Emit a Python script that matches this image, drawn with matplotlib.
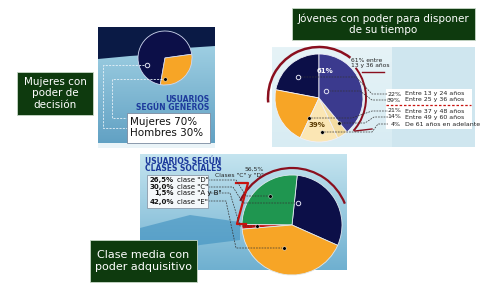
import matplotlib.pyplot as plt
import numpy as np
from matplotlib.patches import Rectangle, Polygon, Arc

# data
gen_labels = ['Mujeres', 'Hombres']
gen_values = [70, 30]

edad_labels = ['Entre 13 y 24 años', 'Entre 25 y 36 años', 'Entre 37 y 48 años',
               'Entre 49 y 60 años', 'De 61 años en adelante']
edad_values = [22, 39, 21, 14, 4]

clase_labels = ['clase "D"', 'clase "C"', 'clase "A y B"', 'clase "E"']
clase_values = [26.5, 30.0, 1.5, 42.0]

NAVY = '#0c0f48'
ORANGE = '#f7a526'
LAV = '#3b3a8e'
CREAM = '#fbe6b4'
GREEN = '#1f9650'
RED = '#c8120f'
DKRED = '#8a0f1e'
BOXGREEN = '#0e3a0e'
BLUE_TXT = '#1d3a9c'

fig = plt.figure(figsize=(5, 3), dpi=100)
ax = fig.add_axes([0, 0, 1, 1])


def gradient(x0, x1, y0, y1, c_top, c_bot):
    a = np.array(plt.matplotlib.colors.to_rgb(c_top))
    b = np.array(plt.matplotlib.colors.to_rgb(c_bot))
    t = np.linspace(0, 1, 100)[:, None]
    img = (a * (1 - t) + b * t)[:, None, :]
    im = ax.imshow(img, extent=(x0, x1, y1, y0), aspect='auto', zorder=1)
    return im


def pie(values, colors, center, r, start, clip, edge='#e8eef5'):
    # y axis is inverted, so go clockwise in data = counter-clockwise on screen
    wedges, _ = ax.pie(values, colors=colors, startangle=-start, counterclock=False,
                       center=center, radius=r, frame=True,
                       wedgeprops=dict(edgecolor=edge, linewidth=0.6))
    for w in wedges:
        w.set_zorder(3)
        w.set_clip_path(clip)
    return wedges


def green_box(x0, y0, x1, y1, txt, fs):
    ax.add_patch(Rectangle((x0, y0), x1 - x0, y1 - y0, facecolor=BOXGREEN,
                           edgecolor='#c8d8c8', lw=0.6, zorder=6))
    ax.text((x0 + x1) / 2, (y0 + y1) / 2, txt, color='white', fontsize=fs,
            ha='center', va='center', linespacing=1.15, zorder=7)


def dot(x, y, open_=False):
    if open_:
        ax.plot(x, y, 'o', ms=3.2, mfc='none', mec='#e0e0f0', mew=0.7, zorder=5)
    else:
        ax.plot(x, y, 'o', ms=2.6, mfc='black', mec='white', mew=0.3, zorder=5)


def leader(pts, color='#333333', lw=0.5):
    xs, ys = zip(*pts)
    ax.plot(xs, ys, ls=(0, (2.5, 1.5)), color=color, lw=lw, zorder=4)


# ---------- panel 1: generos ----------
r1 = Rectangle((98, 27), 117, 121, facecolor='#8fc3da', edgecolor='none', zorder=1)
ax.add_patch(r1)
im = gradient(98, 215, 27, 148, '#a9d7e8', '#5f9fc2')
im.set_clip_path(r1)
ax.add_patch(Polygon([(98, 27), (215, 27), (215, 46), (185, 48), (160, 54), (130, 56), (98, 59)],
                     closed=True, facecolor='#0a1a45', edgecolor='none', zorder=2))
ax.add_patch(Rectangle((98, 143), 117, 5, facecolor='#eaf4f8', edgecolor='none', zorder=2))
pie(gen_values, [NAVY, ORANGE], (165, 58), 27, 8, r1, edge='#d0d8f0')
dot(147, 65, True)
dot(165, 79)
leader([(144, 65), (103, 65), (103, 128), (127, 128)], color='#e8f2f8', lw=0.6)
leader([(162, 79), (112, 79), (112, 118), (127, 118)], color='#e8f2f8', lw=0.6)
ax.text(209, 99, 'USUARIOS', color=BLUE_TXT, fontsize=5.5, fontweight='bold',
        ha='right', va='center', zorder=6)
ax.text(209, 107, 'SEGÚN GENEROS', color=BLUE_TXT, fontsize=5.5, fontweight='bold',
        ha='right', va='center', zorder=6)
ax.add_patch(Rectangle((127, 113), 83, 30, facecolor='white', edgecolor='#7a8aa0',
                       lw=0.6, zorder=6))
for i, (lab, v) in enumerate(zip(gen_labels, gen_values)):
    ax.text(130, 122 + i * 11, f'{lab} {v}%', fontsize=7.5, color='#111111',
            ha='left', va='center', zorder=7)

green_box(17, 72, 93, 115, 'Mujeres con\npoder de\ndecisión', 7.5)

# ---------- panel 2: edades ----------
r2 = Rectangle((272, 47), 203, 100, facecolor='#f2f8fa', edgecolor='none', zorder=1)
ax.add_patch(r2)
im = gradient(272, 392, 47, 147, '#e6f3f7', '#d8ecf3')
im.set_clip_path(r2)
ax.add_patch(Rectangle((392, 47), 83, 100, facecolor='#cfe6ef', edgecolor='none', zorder=2))
ax.add_patch(Rectangle((386, 89), 86, 40, facecolor='white', edgecolor='none', zorder=2))
pie(edad_values[:1] + edad_values[2:] + edad_values[1:2],
    [NAVY, ORANGE, CREAM, '#f3dca0', LAV], (319, 98), 44, 90, r2, edge='#f0f0f8')

# red arcs (angles flipped because of the inverted y axis)
a = Arc((319, 98), 102, 102, theta1=-185, theta2=-52, color=DKRED, lw=1.8, zorder=4)
a.set_clip_path(r2)
ax.add_patch(a)
ax.add_patch(Arc((317, 98), 98, 98, theta1=-38, theta2=42, color=DKRED, lw=1.4, zorder=4))
ax.plot([362, 384], [72, 72], color=DKRED, lw=1.0, zorder=4)
ax.plot([355, 372], [131, 129], color=DKRED, lw=1.0, zorder=4)
ax.text(351, 60, '61% entre', fontsize=4.3, color='#222222', ha='left', va='center', zorder=6)
ax.text(351, 66, '13 y 36 años', fontsize=4.3, color='#222222', ha='left', va='center', zorder=6)
ax.text(325, 71, f'{edad_values[0] + edad_values[1]}%', fontsize=5, color='white',
        fontweight='bold', ha='center', va='center', zorder=6)
ax.text(317, 125, f'{sum(edad_values[2:])}%', fontsize=5, color='#5a3a00',
        fontweight='bold', ha='center', va='center', zorder=6)

rows_y = [94, 100, 111, 117, 124]
for y, lab, v in zip(rows_y, edad_labels, edad_values):
    ax.text(401, y, f'{v}%', fontsize=4.5, color='#222222', ha='right', va='center', zorder=6)
    ax.text(405, y, lab, fontsize=4.5, color='#222222', ha='left', va='center', zorder=6)
ax.plot([386, 471], [105, 105], ls=(0, (2, 1.5)), color=RED, lw=0.9, zorder=6)

dot(298, 77, True)
dot(326, 91, True)
dot(309, 118)
dot(339, 123)
dot(322, 132)
leader([(301, 77), (356, 77), (372, 94), (388, 94)])
leader([(329, 91), (360, 91), (372, 100), (388, 100)])
leader([(311, 118), (352, 118), (372, 111), (388, 111)])
leader([(341, 123), (365, 123), (374, 117), (388, 117)])
leader([(324, 132), (372, 132), (378, 124), (388, 124)])

green_box(292, 8, 475, 40, 'Jóvenes con poder para disponer\nde su tiempo', 7.5)

# ---------- panel 3: clases sociales ----------
r3 = Rectangle((140, 154), 207, 116, facecolor='#a8d5e7', edgecolor='none', zorder=1)
ax.add_patch(r3)
im = gradient(140, 347, 154, 270, '#c4e4ef', '#6fb0d0')
im.set_clip_path(r3)
sw = Polygon([(140, 228), (190, 215), (240, 222), (240, 240), (200, 245), (140, 262)],
             closed=True, facecolor='#3d8fbf', edgecolor='none', alpha=0.6, zorder=2)
ax.add_patch(sw)
# order on the pie: C, D, A y B, E
pie([clase_values[1], clase_values[0], clase_values[2], clase_values[3]],
    [NAVY, GREEN, RED, ORANGE], (292, 225), 50, -24, r3, edge='#dfe8ef')
a = Arc((292, 225), 114, 114, theta1=-155, theta2=-22, color=DKRED, lw=1.6, zorder=4)
ax.add_patch(a)
ax.plot([236, 248, 237, 246], [183, 183, 224, 224], color=RED, lw=1.6, zorder=4)
ax.text(264, 169, '56,5%', fontsize=4.3, color='#222222', ha='right', va='center', zorder=6)
ax.text(264, 175, 'Clases "C" y "D"', fontsize=4.3, color='#222222', ha='right',
        va='center', zorder=6)

ax.text(145, 161, 'USUARIOS SEGÚN', color=BLUE_TXT, fontsize=5.5, fontweight='bold',
        ha='left', va='center', zorder=6)
ax.text(145, 168.5, 'CLASES SOCIALES', color=BLUE_TXT, fontsize=5.5, fontweight='bold',
        ha='left', va='center', zorder=6)
ax.add_patch(Rectangle((147, 175), 61, 33, facecolor='#f4f8fa', edgecolor='#8a9aaa',
                       lw=0.6, zorder=5))
rows_y = [180, 187, 193, 202]
for y, lab, v in zip(rows_y, clase_labels, clase_values):
    ax.text(174, y, f'{v:.1f}%'.replace('.', ','), fontsize=5, fontweight='bold',
            color='#111111', ha='right', va='center', zorder=6)
    ax.text(177, y, lab, fontsize=5, color='#111111', ha='left', va='center', zorder=6)

dot(270, 196)
dot(298, 203, True)
dot(257, 226)
dot(284, 248)
leader([(208, 180), (236, 180), (246, 196), (268, 196)])
leader([(208, 187), (233, 187), (243, 203), (295, 203)])
leader([(208, 193), (230, 193), (240, 226), (255, 226)])
leader([(208, 201), (226, 201), (236, 248), (282, 248)])

green_box(90, 240, 197, 282, 'Clase media con\npoder adquisitivo', 8)

ax.set_xlim(0, 500)
ax.set_ylim(300, 0)
ax.set_aspect('equal')
ax.axis('off')
fig.savefig('out.png', dpi=100, facecolor='white')
